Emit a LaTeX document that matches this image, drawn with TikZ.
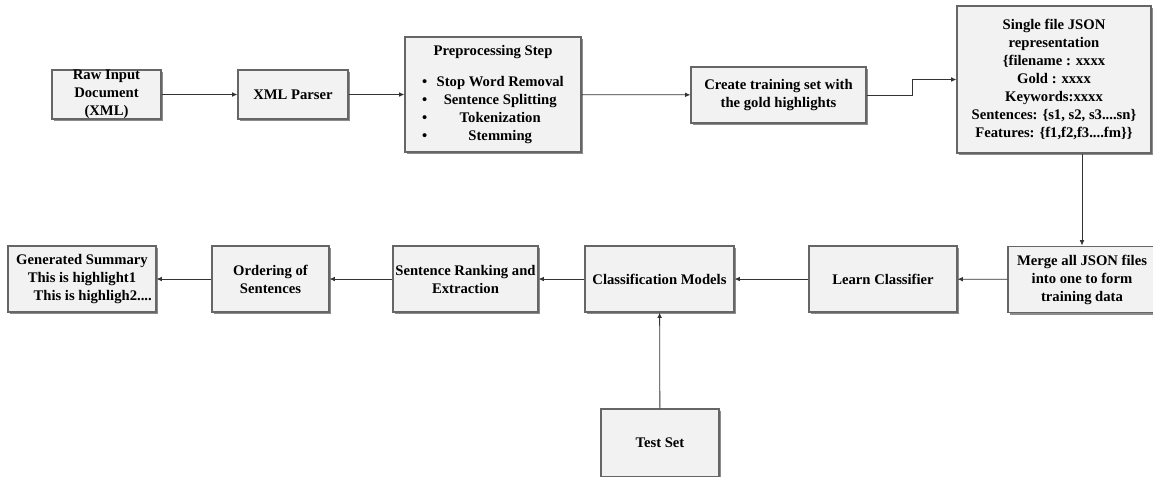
\documentclass[tikz,border=0pt]{standalone}
\usepackage{fontspec}
\setmainfont{Liberation Serif}
\usetikzlibrary{arrows.meta,shadows}
\definecolor{boxfill}{HTML}{F2F2F2}
\definecolor{boxline}{HTML}{666666}
\definecolor{arrline}{HTML}{333333}
\begin{document}
\begin{tikzpicture}[x=0.75pt,y=-0.75pt,
box/.style={rectangle,draw=boxline,fill=boxfill,line width=0.9pt,align=center,inner xsep=1pt,inner ysep=1pt,font=\fontsize{11}{13.5}\selectfont\bfseries,drop shadow={shadow xshift=1.5pt,shadow yshift=-1.5pt,fill=black!45,opacity=1}},
arr/.style={-{Latex[length=4pt,width=3.5pt]},draw=arrline,line width=0.6pt}]

\useasboundingbox (0,0) rectangle (1153,476);

\node[box,minimum width=81.75pt,minimum height=36.75pt,inner ysep=0pt] (raw) at (106.5,94.5) {Raw Input\\Document\\(XML)};
\node[box,minimum width=82.5pt,minimum height=36.75pt] (xml) at (293,94.5) {XML Parser};
\node[box,minimum width=132pt,minimum height=86.25pt] (prep) at (493,94.5) {\begin{tabular}{@{}c@{\hspace{7pt}}c@{}}
\multicolumn{2}{c}{Preprocessing Step}\\[10pt]
\textbullet & Stop Word Removal\\
\textbullet & Sentence Splitting\\
\textbullet & Tokenization\\
\textbullet & Stemming
\end{tabular}};
\node[box,minimum width=131.25pt,minimum height=42pt] (create) at (778.5,95) {Create training set with\\the gold highlights};
\node[box,minimum width=145.5pt,minimum height=110.25pt] (json) at (1054,79.5) {Single file JSON\\representation\\\{filename : xxxx\\Gold : xxxx\\Keywords:xxxx\\Sentences: \{s1, s2, s3....sn\}\\Features: \{f1,f2,f3....fm\}\}};

\node[box,minimum width=111pt,minimum height=50pt] (merge) at (1082,279.5) {Merge all JSON files\\into one to form\\training data};
\node[box,minimum width=111pt,minimum height=49.5pt] (learn) at (883,279) {Learn Classifier};
\node[box,minimum width=111.75pt,minimum height=49.5pt] (class) at (659.5,279) {Classification Models};
\node[box,minimum width=108.75pt,minimum height=49.5pt] (rank) at (465.5,279) {Sentence Ranking and\\Extraction};
\node[box,minimum width=87.75pt,minimum height=49.5pt] (order) at (270.5,279) {Ordering of\\Sentences};
\node[box,minimum width=111pt,minimum height=49.5pt] (gen) at (82,279) {Generated Summary\\This is highlight1\\\hspace*{16pt}This is highligh2....};
\node[box,minimum width=88.5pt,minimum height=51pt] (test) at (660,443) {Test Set};

\coordinate (bend) at (912,95);

\draw[arr] (raw) -- (xml);
\draw[arr] (xml) -- (prep);
\draw[arr] (prep) -- (create);
\draw[arr] (create.east) -- (bend) |- (json.west);
\draw[arr] (json.south -| merge.north) -- (merge.north);
\draw[arr] (merge) -- (learn);
\draw[arr] (learn) -- (class);
\draw[arr] (class) -- (rank);
\draw[arr] (rank) -- (order);
\draw[arr] (order) -- (gen);
\draw[arr] (test) -- (class);

\end{tikzpicture}
\end{document}
